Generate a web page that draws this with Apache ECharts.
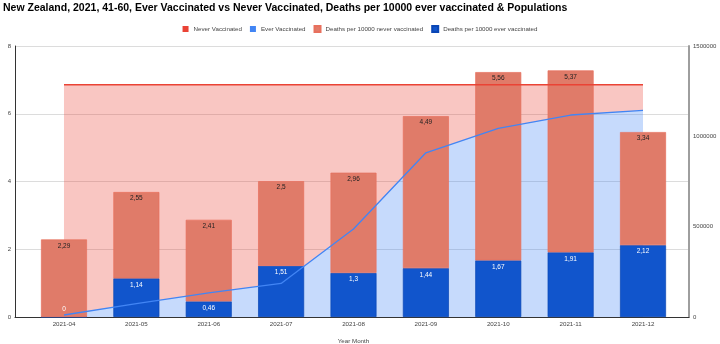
<!DOCTYPE html>
<html>
<head>
<meta charset="utf-8">
<script src="https://cdn.jsdelivr.net/npm/echarts@6/dist/echarts.min.js"></script>
<style>html,body{margin:0;padding:0;background:#fff}#c{width:720px;height:344px}</style>
</head>
<body>
<div id="c"></div>
<script>
const categories = ['2021-04','2021-05','2021-06','2021-07','2021-08','2021-09','2021-10','2021-11','2021-12'];
const everVaccinated = [11000, 74000, 133000, 186000, 487000, 909000, 1044000, 1118000, 1144000];
const neverVaccinated = [1275000, 1212000, 1153000, 1100000, 799000, 377000, 242000, 168000, 142000];
const deathsEver = [0, 1.14, 0.46, 1.51, 1.3, 1.44, 1.67, 1.91, 2.12];
const deathsNever = [2.29, 2.55, 2.41, 2.5, 2.96, 4.49, 5.56, 5.37, 3.34];
const leftTicks = [0, 2, 4, 6, 8];
const rightTicks = [0, 500000, 1000000, 1500000];

const fmt = p => String(p.value).replace('.', ',');
const FONT = '"Liberation Sans", Arial, sans-serif';
const LMIN = leftTicks[0], LMAX = leftTicks[leftTicks.length - 1];
const RMIN = rightTicks[0], RMAX = rightTicks[rightTicks.length - 1];

const chart = echarts.init(document.getElementById('c'));
chart.setOption({
  animation: false,
  textStyle: { fontFamily: FONT },
  title: {
    text: 'New Zealand, 2021, 41-60, Ever Vaccinated vs Never Vaccinated, Deaths per 10000 ever vaccinated & Populations',
    left: 3, top: 3, padding: 0,
    textStyle: { fontSize: 10.5, fontWeight: 'bold', color: '#000', fontFamily: FONT }
  },
  legend: {
    top: 20, left: 'center', icon: 'rect', itemWidth: 6, itemHeight: 6, itemGap: 8,
    textStyle: { fontSize: 6.2, color: '#444' },
    data: ['Never Vaccinated', 'Ever Vaccinated', 'Deaths per 10000 never vaccinated', 'Deaths per 10000 ever vaccinated']
  },
  grid: [
    { left: 15, right: 31, top: 46, bottom: 27, containLabel: false, outerBoundsMode: 'none' },
    { left: 27.8, right: 40.8, top: 46, bottom: 27, containLabel: false, outerBoundsMode: 'none' }
  ],
  xAxis: [
    { type: 'value', gridIndex: 0, min: 0, max: 1,
      axisLine: { show: true, onZero: false, lineStyle: { color: '#333', width: 1 } },
      axisTick: { show: false }, axisLabel: { show: false }, splitLine: { show: false } },
    { type: 'category', gridIndex: 1, data: categories, boundaryGap: true,
      name: 'Year Month', nameLocation: 'middle', nameGap: 21,
      nameTextStyle: { fontSize: 6.2, color: '#444' },
      axisLine: { show: false }, axisTick: { show: false },
      axisLabel: { fontSize: 6.2, color: '#444', margin: 4 } }
  ],
  yAxis: [
    { type: 'value', gridIndex: 0, min: LMIN, max: LMAX, interval: 2,
      axisLine: { show: true, onZero: false, lineStyle: { color: '#333', width: 1 } },
      axisTick: { show: false },
      axisLabel: { fontSize: 6, color: '#444', margin: 4 },
      splitLine: { lineStyle: { color: '#dcdcdc' } } },
    { type: 'value', gridIndex: 0, position: 'right', min: RMIN, max: RMAX, interval: 500000,
      axisLine: { show: true, onZero: false, lineStyle: { color: '#9e9e9e', width: 2 } },
      axisTick: { show: false },
      axisLabel: { fontSize: 6, color: '#444', margin: 4, formatter: v => String(v) },
      splitLine: { show: false } },
    { type: 'value', gridIndex: 1, min: LMIN, max: LMAX, show: false },
    { type: 'value', gridIndex: 1, min: RMIN, max: RMAX, show: false }
  ],
  series: [
    { name: 'Ever Vaccinated', type: 'line', xAxisIndex: 1, yAxisIndex: 3, stack: 'pop', data: everVaccinated,
      symbol: 'none', z: 1, color: '#4285f4', lineStyle: { width: 0 },
      areaStyle: { color: '#4285f4', opacity: 0.3 } },
    { name: 'Never Vaccinated', type: 'line', xAxisIndex: 1, yAxisIndex: 3, stack: 'pop', data: neverVaccinated,
      symbol: 'none', z: 1, color: '#ea4335', lineStyle: { width: 0 },
      areaStyle: { color: '#ea4335', opacity: 0.3 } },
    { name: 'Deaths per 10000 ever vaccinated', type: 'bar', xAxisIndex: 1, yAxisIndex: 2, stack: 'd', barWidth: 46, z: 2,
      color: '#1155cc', itemStyle: { color: '#1155cc', borderColor: '#0a46b5', borderWidth: 0.7 },
      data: deathsEver.map(v => v === 0
        ? { value: v, label: { position: 'top', distance: 4 } }
        : v),
      label: { show: true, position: 'insideTop', distance: 3, color: '#fff', fontSize: 6.5, formatter: fmt } },
    { name: 'Deaths per 10000 never vaccinated', type: 'bar', xAxisIndex: 1, yAxisIndex: 2, stack: 'd', barWidth: 46, z: 2,
      color: '#e07b69', itemStyle: { color: '#e07b69', borderColor: '#e8705d', borderWidth: 0.7 },
      data: deathsNever,
      label: { show: true, position: 'insideTop', distance: 3, color: '#222', fontSize: 6.5, formatter: fmt } },
    { name: 'Ever Vaccinated', type: 'line', xAxisIndex: 1, yAxisIndex: 3, stack: 'popLine', data: everVaccinated,
      symbol: 'none', z: 3, color: '#4285f4', lineStyle: { width: 1.3, color: '#4285f4' } },
    { name: 'Never Vaccinated', type: 'line', xAxisIndex: 1, yAxisIndex: 3, stack: 'popLine', data: neverVaccinated,
      symbol: 'none', z: 3, color: '#ea4335', lineStyle: { width: 1.5, color: '#ea4335' } }
  ]
});
</script>
</body>
</html>
